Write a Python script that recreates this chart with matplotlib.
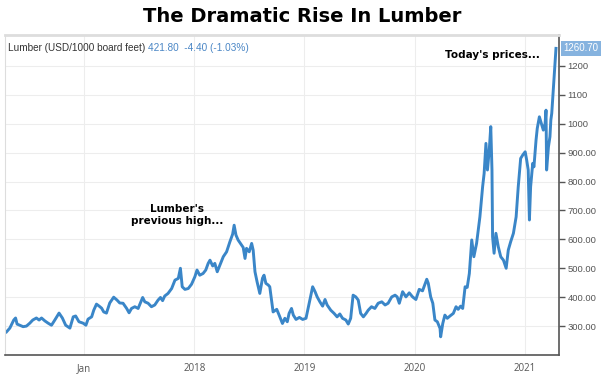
import numpy as np
import pandas as pd
import matplotlib
matplotlib.use("Agg")
import matplotlib.pyplot as plt
import matplotlib.dates as mdates
from matplotlib.ticker import FuncFormatter

# lumber futures, USD per 1000 board feet
dates = [
    "2016-04-19", "2016-04-30", "2016-05-13", "2016-05-19", "2016-05-24", "2016-06-02",
    "2016-06-13", "2016-06-24", "2016-07-05", "2016-07-15", "2016-07-27", "2016-08-05",
    "2016-08-13", "2016-08-24", "2016-09-04", "2016-09-15", "2016-09-26", "2016-10-10",
    "2016-10-21", "2016-11-01", "2016-11-15", "2016-11-26", "2016-12-04", "2016-12-15",
    "2016-12-29", "2017-01-07", "2017-01-14", "2017-01-26", "2017-02-02", "2017-02-11",
    "2017-02-20", "2017-02-28", "2017-03-07", "2017-03-16", "2017-03-27", "2017-04-09",
    "2017-04-20", "2017-04-29", "2017-05-10", "2017-05-22", "2017-05-30", "2017-06-07",
    "2017-06-18", "2017-06-29", "2017-07-14", "2017-07-21", "2017-08-01", "2017-08-12",
    "2017-08-23", "2017-09-03", "2017-09-11", "2017-09-18", "2017-09-25", "2017-10-06",
    "2017-10-18", "2017-10-29", "2017-11-09", "2017-11-16", "2017-11-22", "2017-12-01",
    "2017-12-12", "2017-12-23", "2018-01-03", "2018-01-10", "2018-01-19", "2018-01-30",
    "2018-02-08", "2018-02-16", "2018-02-22", "2018-03-03", "2018-03-10", "2018-03-18",
    "2018-03-27", "2018-04-07", "2018-04-18", "2018-04-29", "2018-05-08", "2018-05-13",
    "2018-05-19", "2018-05-26", "2018-06-03", "2018-06-12", "2018-06-18", "2018-06-23",
    "2018-07-02", "2018-07-10", "2018-07-15", "2018-07-21", "2018-07-28", "2018-08-06",
    "2018-08-15", "2018-08-20", "2018-08-26", "2018-09-03", "2018-09-08", "2018-09-14",
    "2018-09-19", "2018-10-01", "2018-10-09", "2018-10-20", "2018-10-28", "2018-11-05",
    "2018-11-11", "2018-11-19", "2018-11-25", "2018-12-04", "2018-12-15", "2018-12-26",
    "2019-01-06", "2019-01-13", "2019-01-21", "2019-01-28", "2019-02-05", "2019-02-12",
    "2019-02-21", "2019-03-02", "2019-03-10", "2019-03-17", "2019-03-29", "2019-04-09",
    "2019-04-19", "2019-04-28", "2019-05-07", "2019-05-18", "2019-05-26", "2019-06-03",
    "2019-06-11", "2019-06-20", "2019-06-28", "2019-07-06", "2019-07-15", "2019-07-24",
    "2019-07-31", "2019-08-11", "2019-08-22", "2019-09-02", "2019-09-14", "2019-09-25",
    "2019-10-05", "2019-10-17", "2019-10-28", "2019-11-04", "2019-11-11", "2019-11-22",
    "2019-12-03", "2019-12-14", "2019-12-25", "2020-01-05", "2020-01-16", "2020-01-27",
    "2020-02-10", "2020-02-15", "2020-02-23", "2020-03-01", "2020-03-08", "2020-03-16",
    "2020-03-25", "2020-03-27", "2020-04-03", "2020-04-10", "2020-04-18", "2020-04-27",
    "2020-05-08", "2020-05-17", "2020-05-24", "2020-06-01", "2020-06-08", "2020-06-16",
    "2020-06-23", "2020-06-30", "2020-07-08", "2020-07-15", "2020-07-24", "2020-08-04",
    "2020-08-13", "2020-08-18", "2020-08-24", "2020-08-29", "2020-09-04", "2020-09-09",
    "2020-09-13", "2020-09-15", "2020-09-20", "2020-09-26", "2020-10-04", "2020-10-12",
    "2020-10-21", "2020-10-30", "2020-11-06", "2020-11-14", "2020-11-23", "2020-12-02",
    "2020-12-09", "2020-12-17", "2020-12-24", "2021-01-01", "2021-01-06", "2021-01-11",
    "2021-01-15", "2021-01-19", "2021-01-26", "2021-01-30", "2021-02-06", "2021-02-10",
    "2021-02-17", "2021-02-25", "2021-03-02", "2021-03-08", "2021-03-11", "2021-03-13",
    "2021-03-19", "2021-03-24", "2021-03-27", "2021-03-30", "2021-04-04", "2021-04-10",
    "2021-04-13",
]
prices = [
    280, 293, 321, 328, 307, 303,
    298, 300, 310, 321, 328, 321,
    328, 318, 310, 303, 321, 345,
    328, 303, 293, 332, 335, 315,
    310, 303, 324, 332, 355, 376,
    369, 362, 349, 345, 380, 400,
    390, 380, 379, 361, 346, 361,
    367, 361, 399, 384, 379, 367,
    373, 390, 399, 388, 404, 413,
    430, 459, 465, 500, 436, 427,
    430, 445, 471, 494, 476, 482,
    494, 517, 528, 508, 517, 488,
    511, 540, 557, 592, 618, 649,
    615, 598, 586, 572, 534, 569,
    557, 586, 563, 488, 453, 413,
    466, 476, 448, 442, 436, 390,
    349, 358, 338, 309, 327, 315,
    344, 361, 338, 323, 330, 323,
    327, 361, 401, 436, 419, 401,
    384, 369, 392, 373, 355, 344,
    332, 342, 327, 321, 307, 327,
    407, 401, 390, 344, 332, 344,
    355, 367, 361, 379, 384, 373,
    379, 401, 407, 401, 379, 419,
    401, 415, 401, 392, 427, 422,
    462, 448, 401, 379, 321, 315,
    292, 263, 309, 338, 327, 335,
    344, 367, 358, 369, 361, 436,
    434, 482, 598, 540, 586, 678,
    782, 828, 932, 840, 909, 990,
    840, 609, 552, 621, 574, 540,
    528, 500, 563, 592, 621, 678,
    782, 880, 892, 903, 874, 840,
    667, 782, 863, 851, 944, 984,
    1024, 995, 978, 1001, 1047, 840,
    920, 955, 1013, 1036, 1117, 1220,
    1260.70,
]

y_ticks = [300, 400, 500, 600, 700, 800, 900, 1000, 1100, 1200]
x_ticks = ["2017-01-01", "2018-01-01", "2019-01-01", "2020-01-01", "2021-01-01"]
x_tick_labels = ["Jan", "2018", "2019", "2020", "2021"]

LINE = "#3a86c8"
GREY = "#555555"

df = pd.DataFrame({"date": pd.to_datetime(dates), "price": prices})

fig = plt.figure(figsize=(6.05, 3.77), dpi=100)
ax = fig.add_axes([5 / 605, 1 - 355 / 377, 554 / 605, 320 / 377])

ax.plot(df["date"], df["price"], color=LINE, lw=2.1, solid_joinstyle="round")

ax.set_xlim(pd.Timestamp("2016-04-14"), pd.Timestamp("2021-04-23"))
ax.set_ylim(200, 1307)

# y axis on the right, odd formatting copied from the source chart
ax.yaxis.tick_right()
ax.set_yticks(y_ticks)
ax.yaxis.set_major_formatter(FuncFormatter(lambda v, _: f"{v:.2f}" if v < 1000 else f"{v:.0f}"))
ax.tick_params(axis="y", direction="out", length=4, width=1, color=GREY,
               labelsize=6.8, labelcolor=GREY, pad=2)
for lab in ax.get_yticklabels():
    lab.set_family(["Liberation Sans", "DejaVu Sans"])

ax.set_xticks(pd.to_datetime(x_ticks))
ax.set_xticklabels(x_tick_labels, fontsize=7, color=GREY, family=["Open Sans", "DejaVu Sans"])
ax.tick_params(axis="x", length=0, pad=6)

ax.grid(True, color="#ededed", lw=0.8)
ax.set_axisbelow(True)

for side in ["left", "top"]:
    ax.spines[side].set_color("#dddddd")
ax.spines["top"].set_linewidth(2)
for side in ["right", "bottom"]:
    ax.spines[side].set_color(GREY)
    ax.spines[side].set_linewidth(1.2)

# header line inside the plot
head = ax.text(0.005, 0.958, "Lumber (USD/1000 board feet) ", transform=ax.transAxes,
               fontsize=7.2, color="#333333", va="center", ha="left",
               family=["Liberation Sans", "DejaVu Sans"])
ax.annotate("421.80  -4.40 (-1.03%)", xy=(1, 0.5), xycoords=head, va="center", ha="left",
            fontsize=7.2, color="#4a86c5", family=["Liberation Sans", "DejaVu Sans"])

# last price flag
ax.annotate("1260.70", xy=(1, 1260.70), xycoords=("axes fraction", "data"),
            xytext=(3, 0), textcoords="offset points", va="center", ha="left",
            fontsize=7, color="white", family=["Liberation Sans", "DejaVu Sans"],
            bbox=dict(boxstyle="square,pad=0.25", fc="#86b3df", ec="none"),
            annotation_clip=False)

ax.text(pd.Timestamp("2017-11-04"), 685, "Lumber's\nprevious high...", ha="center",
        va="center", fontsize=7.5, fontweight="bold", linespacing=1.25)
ax.text(pd.Timestamp("2020-09-13"), 1238, "Today's prices...", ha="center",
        va="center", fontsize=7.5, fontweight="bold")

fig.text(0.5, 1 - 16 / 377, "The Dramatic Rise In Lumber", ha="center", va="center",
         fontsize=14, fontweight="bold")

fig.savefig("out.png", dpi=100)
